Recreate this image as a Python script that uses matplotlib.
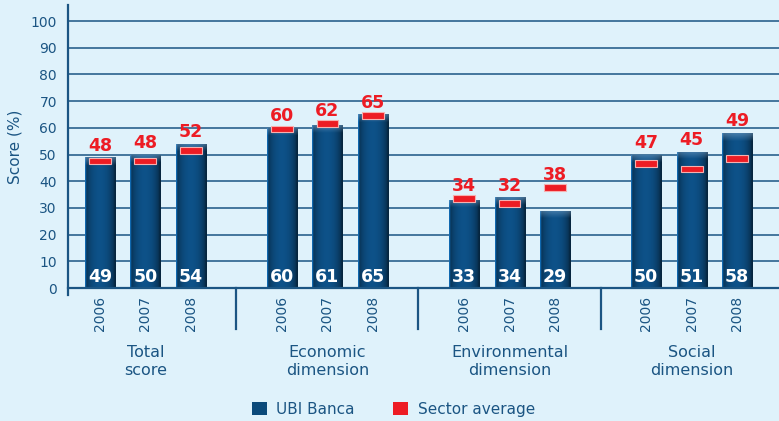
import numpy as np
import matplotlib
matplotlib.use("Agg")
import matplotlib.pyplot as plt
from matplotlib.patches import Patch

categories = ["Total\nscore", "Economic\ndimension", "Environmental\ndimension", "Social\ndimension"]
years = ["2006", "2007", "2008"]
ubi = [49, 50, 54, 60, 61, 65, 33, 34, 29, 50, 51, 58]
sector = [48, 48, 52, 60, 62, 65, 34, 32, 38, 47, 45, 49]
yticks = list(range(0, 101, 10))

BG = "#dff2fb"
DARK = "#1b5583"
RED = "#ed1c24"
BAR = "#0c4a7c"

fig = plt.figure(figsize=(7.79, 4.21), dpi=100, facecolor=BG)
ax = fig.add_axes([68 / 779, (421 - 288) / 421, 1 - 68 / 779, 283 / 421])
ax.set_facecolor(BG)

pos = []
for g in range(4):
    for k in range(3):
        pos.append(g * 4 + k)
pos = np.array(pos, dtype=float)

ax.set_xlim(-0.7, 14.92)
ax.set_ylim(0, 106)

for y in yticks[1:]:
    ax.axhline(y, color=DARK, lw=1.1, zorder=1)

bw = 0.66
bars = ax.bar(pos, ubi, width=bw, color=BAR, zorder=2)

# gradient fill for bars
nx = 64
xs = np.linspace(0, 1, nx)
prof = 0.5 + 0.6 * np.sin(np.pi * np.clip(xs * 1.04, 0, 1)) ** 0.55
prof[:3] = [1.6, 1.3, 1.1]
base = np.array([0x0c, 0x4a, 0x7c]) / 255.0
for b, v in zip(bars, ubi):
    ny = 200
    img = np.zeros((ny, nx, 3))
    row = np.clip(base[None, :] * prof[:, None], 0, 1)
    img[:] = row[None, :, :]
    topfrac = 3.0 / v
    nt = max(1, int(ny * topfrac))
    for i in range(nt):
        t = 1 - i / nt
        img[i] = np.clip(img[i] * (1 - 0.5 * t) + np.array([0.5, 0.66, 0.8]) * 0.5 * t, 0, 1)
    x0 = b.get_x()
    im = ax.imshow(img, extent=[x0, x0 + bw, 0, v], aspect="auto", zorder=2.5, interpolation="bilinear")
    im.set_clip_path(b)

ax.bar(pos, [2.5] * len(pos), bottom=np.array(sector) - 1.7, width=0.48,
       color=RED, edgecolor="#f6b0b0", lw=0.8, zorder=4)

for x, s, v in zip(pos, sector, ubi):
    ax.text(x, max(s, v) + 1.0, str(s), color=RED, fontsize=12.5, fontweight="bold",
            ha="center", va="bottom", zorder=5)
for x, v in zip(pos, ubi):
    ax.text(x, 2.4, str(v), color="white", fontsize=12.5, fontweight="bold",
            ha="center", va="baseline", zorder=5)

for sp in ["top", "right"]:
    ax.spines[sp].set_visible(False)
ax.spines["left"].set_color(DARK)
ax.spines["left"].set_linewidth(1.6)
ax.spines["bottom"].set_color(DARK)
ax.spines["bottom"].set_linewidth(1.6)
ax.spines["left"].set_bounds(-2.5, 106)

ax.set_yticks(yticks)
ax.set_yticklabels([str(t) for t in yticks], color=DARK, fontsize=10)
ax.tick_params(axis="y", length=0, pad=8)
ax.set_xticks(pos)
ax.set_xticklabels(years * 4, rotation=90, color=DARK, fontsize=10)
ax.tick_params(axis="x", length=0, pad=6)
ax.set_ylabel("Score (%)", color=DARK, fontsize=11, labelpad=6)

for sx in [3, 7, 11]:
    ax.plot([sx, sx], [0, -15.5], color=DARK, lw=1.6, clip_on=False, zorder=1)

for g, c in enumerate(categories):
    ax.text(g * 4 + 1, -21.5, c, color=DARK, fontsize=11.5, ha="center", va="top",
            linespacing=1.25)

handles = [Patch(facecolor="#0b4a7a", label="UBI Banca"),
           Patch(facecolor=RED, label="Sector average")]
fig.legend(handles=handles, loc="center", bbox_to_anchor=(0.505, 0.028), ncol=2,
           frameon=False, fontsize=11, labelcolor=DARK, handlelength=1.0,
           handleheight=1.0, columnspacing=2.5, handletextpad=0.6)

fig.savefig("out.png", dpi=100, facecolor=BG)
